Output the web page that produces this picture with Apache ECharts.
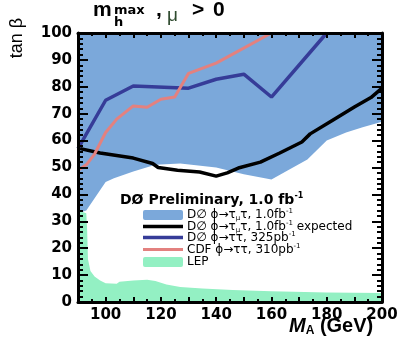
<!DOCTYPE html>
<html>
<head>
<meta charset="utf-8">
<script src="https://cdn.jsdelivr.net/npm/echarts@6/dist/echarts.min.js"></script>
<style>
  html, body { margin: 0; padding: 0; background: #fff; }
  #chart { width: 402px; height: 341px; }
</style>
</head>
<body>
<div id="chart"></div>
<script>
// Axis label values
const xLabelTicks = [100, 120, 140, 160, 180, 200];
const yLabelTicks = [0, 10, 20, 30, 40, 50, 60, 70, 80, 90, 100];

// D0 phi -> tau_mu tau, 1.0 fb-1: excluded above this boundary
const d0ExclMA   = [90, 93, 100, 103, 110, 118, 127, 140, 150, 160, 166, 173, 180, 187, 193, 200];
const d0ExclTanb = [33, 34, 44.6, 46, 48.5, 51, 51.5, 50, 47.5, 45.5, 49, 53, 60, 63, 65, 67];

// D0 phi -> tau_mu tau, 1.0 fb-1 expected limit
const d0ExpMA   = [90, 98, 110, 117, 119, 126, 134, 140, 144, 148, 156, 163, 171, 174, 182, 190, 196, 200];
const d0ExpTanb = [57.2, 55.4, 53.5, 51.5, 50, 49, 48.3, 46.8, 48, 49.8, 52, 55.4, 59.5, 62.5, 67.5, 72.5, 76, 79.5];

// D0 phi -> tau tau, 325 pb-1
const d0OldMA   = [90, 100, 110, 130, 140, 150, 160, 180];
const d0OldTanb = [57, 75, 80.3, 79.5, 82.8, 84.7, 76.2, 100];

// CDF phi -> tau tau, 310 pb-1
const cdfMA   = [90, 93, 96, 100, 104, 110, 115, 120, 125, 130, 140, 160];
const cdfTanb = [49, 51, 55, 63, 68, 72.9, 72.4, 75.4, 76.2, 85, 88.8, 100];

// LEP excluded region (below the curve)
const lepMA   = [90, 93, 93.3, 93.6, 94.5, 96, 98, 100, 104, 105, 110, 115, 118, 122, 127, 135, 146, 160, 180, 200];
const lepTanb = [34, 33, 27, 16, 11.5, 9.5, 8, 7, 6.8, 7.5, 8, 8.3, 7.8, 6.5, 5.6, 5, 4.5, 4, 3.5, 3.3];

const pairs = (xs, ys) => xs.map((x, i) => [x, ys[i]]);

const COL_EXCL = '#7BA8DA';
const COL_NAVY = '#363C98';
const COL_PINK = '#E3817F';
const COL_LEP  = '#93F0C3';
const FONT = '"Liberation Sans", Arial, Helvetica, sans-serif';
const WIDE = '"DejaVu Sans", Verdana, sans-serif';

const chart = echarts.init(document.getElementById('chart'), null, { renderer: 'canvas' });

const frameLine = { show: true, onZero: false, lineStyle: { color: '#000', width: 3 } };
const tickX  = { show: true, inside: true, length: 5, lineStyle: { color: '#000', width: 2 } };
const minorX = { show: true, splitNumber: 2, length: 3, lineStyle: { color: '#000', width: 2 } };
const tickY  = { show: true, inside: true, length: 10, lineStyle: { color: '#000', width: 2 } };
const minorY = { show: true, splitNumber: 5, length: 5, lineStyle: { color: '#000', width: 2 } };
const noSplit = { show: false };
const labelStyle = { fontFamily: WIDE, fontWeight: 'bold', fontSize: 15, color: '#000', margin: 6 };

const legendRich = {
  n:   { fontFamily: WIDE, fontSize: 12, color: '#3a3a3a', lineHeight: 14 },
  sub: { fontFamily: WIDE, fontSize: 7,  color: '#3a3a3a', lineHeight: 14, verticalAlign: 'bottom', padding: [6, 0, 0, 0] },
  sup: { fontFamily: WIDE, fontSize: 7,  color: '#3a3a3a', lineHeight: 14, verticalAlign: 'top', padding: [0, 0, 5, 0] }
};

const legendItems = [
  { y: 215, kind: 'rect', color: COL_EXCL, text: '{n|D\u2205 \u03d5\u2192\u03c4}{sub|\u03bc}{n|\u03c4, 1.0fb}{sup|-1}' },
  { y: 226.5, kind: 'line', color: '#000', width: 3.5, text: '{n|D\u2205 \u03d5\u2192\u03c4}{sub|\u03bc}{n|\u03c4, 1.0fb}{sup|-1}{n| expected}' },
  { y: 237.5, kind: 'line', color: COL_NAVY, width: 3.5, text: '{n|D\u2205 \u03d5\u2192\u03c4\u03c4, 325pb}{sup|-1}' },
  { y: 249.5, kind: 'line', color: COL_PINK, width: 3, text: '{n|CDF \u03d5\u2192\u03c4\u03c4, 310pb}{sup|-1}' },
  { y: 262, kind: 'rect', color: COL_LEP, text: '{n|LEP}' }
];

const graphics = [];
legendItems.forEach(it => {
  if (it.kind === 'rect') {
    graphics.push({ type: 'rect', shape: { x: 143, y: it.y - 5, width: 40, height: 10, r: 2 }, style: { fill: it.color } });
  } else {
    graphics.push({ type: 'line', shape: { x1: 143, y1: it.y, x2: 183, y2: it.y }, style: { stroke: it.color, lineWidth: it.width } });
  }
  graphics.push({ type: 'text', x: 187, y: it.y, style: { text: it.text, rich: legendRich, verticalAlign: 'middle', align: 'left' } });
});

// Legend heading
graphics.push({
  type: 'text', x: 120, y: 200,
  style: {
    text: '{b|D\u00d8 Preliminary, 1.0 fb}{s|-1}',
    verticalAlign: 'middle', align: 'left',
    rich: {
      b: { fontFamily: WIDE, fontWeight: 'bold', fontSize: 14, color: '#111', lineHeight: 16 },
      s: { fontFamily: WIDE, fontWeight: 'bold', fontSize: 8, color: '#111', lineHeight: 16, verticalAlign: 'top', padding: [0, 0, 6, 0] }
    }
  }
});

// Plot title: m_h^max, mu > 0
graphics.push(
  { type: 'text', x: 93, y: 21, style: { text: 'm', fontFamily: FONT, fontWeight: 'bold', fontSize: 21, fill: '#000', verticalAlign: 'bottom' } },
  { type: 'text', x: 114, y: 29, style: { text: 'h', fontFamily: WIDE, fontWeight: 'bold', fontSize: 13, fill: '#000', verticalAlign: 'bottom' } },
  { type: 'text', x: 114, y: 17, style: { text: 'max', fontFamily: WIDE, fontWeight: 'bold', fontSize: 13, fill: '#000', verticalAlign: 'bottom' } },
  { type: 'text', x: 156, y: 21, style: { text: ',', fontFamily: FONT, fontWeight: 'bold', fontSize: 21, fill: '#000', verticalAlign: 'bottom' } },
  { type: 'text', x: 167, y: 25, style: { text: '\u03bc', fontFamily: FONT, fontSize: 19, fill: '#2E4A2E', verticalAlign: 'bottom' } },
  { type: 'text', x: 192, y: 21, style: { text: '>', fontFamily: FONT, fontWeight: 'bold', fontSize: 21, fill: '#000', verticalAlign: 'bottom' } },
  { type: 'text', x: 213, y: 21, style: { text: '0', fontFamily: FONT, fontWeight: 'bold', fontSize: 21, fill: '#000', verticalAlign: 'bottom' } }
);

// x-axis title: M_A (GeV)
graphics.push({
  type: 'text', x: 289, y: 337,
  style: {
    text: '{m|M}{a|A}{g| (GeV)}', verticalAlign: 'bottom', align: 'left',
    rich: {
      m: { fontFamily: FONT, fontWeight: 'bold', fontStyle: 'italic', fontSize: 20, color: '#000', lineHeight: 22 },
      a: { fontFamily: FONT, fontWeight: 'bold', fontSize: 12, color: '#000', lineHeight: 22, verticalAlign: 'bottom', padding: [6, 0, 0, 0] },
      g: { fontFamily: FONT, fontWeight: 'bold', fontSize: 20, color: '#000', lineHeight: 22 }
    }
  }
});

// Only every second tick (multiples of 20) carries a label on the M_A axis
const xLabelFormatter = v => (xLabelTicks.indexOf(v) >= 0 ? String(v) : '');

chart.setOption({
  animation: false,
  grid: [
    { left: 78, right: 20, top: 33, bottom: 39 },
    // narrow helper grid that holds the vertical tan(beta) title
    { left: 32, top: 18, width: 10, height: 40 }
  ],
  xAxis: [
    { type: 'value', position: 'bottom', min: 90, max: 200, interval: 10, axisLine: frameLine,
      axisTick: tickX, minorTick: minorX,
      axisLabel: Object.assign({ formatter: xLabelFormatter }, labelStyle), splitLine: noSplit },
    { type: 'value', position: 'top', min: 90, max: 200, interval: 10, axisLine: frameLine,
      axisTick: tickX, minorTick: minorX, axisLabel: { show: false }, splitLine: noSplit },
    { type: 'value', gridIndex: 1, min: 0, max: 1, show: false }
  ],
  yAxis: [
    { type: 'value', position: 'left', min: 0, max: 100, interval: 10, axisLine: frameLine,
      axisTick: tickY, minorTick: minorY, axisLabel: labelStyle, splitLine: noSplit },
    { type: 'value', position: 'right', min: 0, max: 100, interval: 10, axisLine: frameLine,
      axisTick: tickY, minorTick: minorY, axisLabel: { show: false }, splitLine: noSplit },
    { type: 'value', gridIndex: 1, position: 'left', min: 0, max: 1,
      axisLine: { show: false }, axisTick: { show: false }, axisLabel: { show: false }, splitLine: noSplit,
      name: 'tan \u03b2', nameLocation: 'middle', nameRotate: 90, nameGap: 6,
      nameTextStyle: { fontFamily: FONT, fontSize: 18, color: '#000' } }
  ],
  series: [
    { name: 'D0 tau_mu tau 1.0fb-1', type: 'line', data: pairs(d0ExclMA, d0ExclTanb), symbol: 'none',
      lineStyle: { width: 0 }, areaStyle: { color: COL_EXCL, opacity: 1, origin: 'end' }, z: -5, silent: true },
    { name: 'LEP', type: 'line', data: pairs(lepMA, lepTanb), symbol: 'none',
      lineStyle: { width: 0 }, areaStyle: { color: COL_LEP, opacity: 1, origin: 'start' }, z: -4, silent: true },
    { name: 'D0 expected', type: 'line', data: pairs(d0ExpMA, d0ExpTanb), symbol: 'none',
      lineStyle: { color: '#000', width: 3.5 }, z: -3, silent: true },
    { name: 'D0 325pb-1', type: 'line', data: pairs(d0OldMA, d0OldTanb), symbol: 'none',
      lineStyle: { color: COL_NAVY, width: 3.5 }, z: -2, silent: true },
    { name: 'CDF 310pb-1', type: 'line', data: pairs(cdfMA, cdfTanb), symbol: 'none',
      lineStyle: { color: COL_PINK, width: 3 }, z: -1, silent: true }
  ],
  graphic: graphics
});
</script>
</body>
</html>
